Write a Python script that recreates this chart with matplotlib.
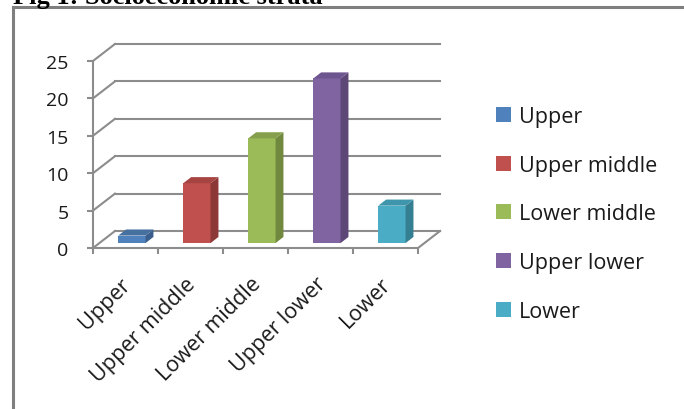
import numpy as np
import matplotlib.pyplot as plt
from matplotlib.patches import Polygon, Patch

categories = ['Upper', 'Upper middle', 'Lower middle', 'Upper lower', 'Lower']
values = [1, 8, 14, 22, 5]
yticks = [0, 5, 10, 15, 20, 25]
face_colors = ['#4F81BD', '#C0504D', '#9BBB59', '#8064A2', '#4BACC6']
side_colors = ['#3A5F8C', '#8C3836', '#71893F', '#5C4776', '#357F92']
top_colors = ['#45709F', '#A64442', '#859F4C', '#6D5590', '#3F96AC']

plt.rcParams['font.family'] = ['Open Sans', 'DejaVu Sans']

# oblique "3d" depth, in data units
ddx, ddy = 0.338, 2.27
d0, d1 = 0.29, 0.65     # bar front / back depth fraction
bw = 0.42

fig = plt.figure(figsize=(6.84, 4.10), dpi=100)
W, H = 684, 410
ax = fig.add_axes([93 / W, (H - 249) / H, (440 - 93) / W, (249 - 45) / H])
n = len(categories)
ax.set_xlim(-0.5, n - 0.5 + ddx)
ax.set_ylim(0, yticks[-1] + ddy)

grid_kw = dict(color='#8c8c8c', lw=1.5, clip_on=False, zorder=1)
for v in yticks:
    # back wall line + side wall diagonal
    ax.plot([-0.5 + ddx, n - 0.5 + ddx], [v + ddy, v + ddy], **grid_kw)
    ax.plot([-0.5, -0.5 + ddx], [v, v + ddy], **grid_kw)
# floor right edge
ax.plot([n - 0.5, n - 0.5 + ddx], [0, ddy], **grid_kw)

x = np.arange(n)
for i, v in enumerate(values):
    x0 = x[i] - bw / 2 + d0 * ddx
    y0 = d0 * ddy
    sx, sy = (d1 - d0) * ddx, (d1 - d0) * ddy
    ax.bar(x0, v, width=bw, bottom=y0, align='edge', color=face_colors[i],
           zorder=3, clip_on=False)
    side = Polygon([(x0 + bw, y0), (x0 + bw + sx, y0 + sy),
                    (x0 + bw + sx, y0 + v + sy), (x0 + bw, y0 + v)],
                   closed=True, facecolor=side_colors[i], lw=0, zorder=3, clip_on=False)
    top = Polygon([(x0, y0 + v), (x0 + bw, y0 + v),
                   (x0 + bw + sx, y0 + v + sy), (x0 + sx, y0 + v + sy)],
                  closed=True, facecolor=top_colors[i], lw=0, zorder=3, clip_on=False)
    ax.add_patch(side)
    ax.add_patch(top)

for s in ['top', 'right']:
    ax.spines[s].set_visible(False)
for s in ['left', 'bottom']:
    ax.spines[s].set_color('#8c8c8c')
    ax.spines[s].set_linewidth(1.5)
    ax.spines[s].set_zorder(4)
ax.spines['left'].set_bounds(0, yticks[-1])
ax.spines['bottom'].set_bounds(-0.5, n - 0.5)

ax.set_yticks(yticks)
ax.tick_params(axis='y', length=4.5, width=1.5, color='#8c8c8c', pad=13,
               labelsize=14, labelcolor='#1a1a1a')
ax.set_xticks(np.arange(n + 1) - 0.5)
ax.tick_params(axis='x', which='major', length=4.5, width=1.5, color='#8c8c8c',
               labelbottom=False)
ax.set_xticks(x - 0.08, categories, minor=True)
ax.tick_params(axis='x', which='minor', length=0, pad=18, labelsize=15.5,
               labelcolor='#1a1a1a')
for lab in ax.get_xticklabels(minor=True):
    lab.set_rotation(45)
    lab.set_ha('right')
    lab.set_va('top')
    lab.set_rotation_mode('anchor')
ax.set_facecolor('none')

handles = [Patch(facecolor=c) for c in face_colors]
fig.legend(handles, categories, loc='upper left', bbox_to_anchor=(477 / W, 1 - 88 / H),
           frameon=False, fontsize=15.5, handlelength=0.7, handleheight=0.7,
           handletextpad=0.35, labelspacing=1.28, labelcolor='#1a1a1a')

# outer chart border (left and top edges visible)
fig.add_artist(plt.Line2D([13 / W, 13 / W], [0, 1 - 8 / H], transform=fig.transFigure,
                          color='#7f7f7f', lw=2.2))
fig.add_artist(plt.Line2D([13 / W, 1], [1 - 8 / H, 1 - 8 / H], transform=fig.transFigure,
                          color='#7f7f7f', lw=2.2))
fig.text(13 / W, 1 - 4 / H, 'Fig 1: Socioeconomic strata', family='Liberation Serif',
         weight='bold', fontsize=19, va='baseline', ha='left')

fig.savefig('out.png', dpi=100)
